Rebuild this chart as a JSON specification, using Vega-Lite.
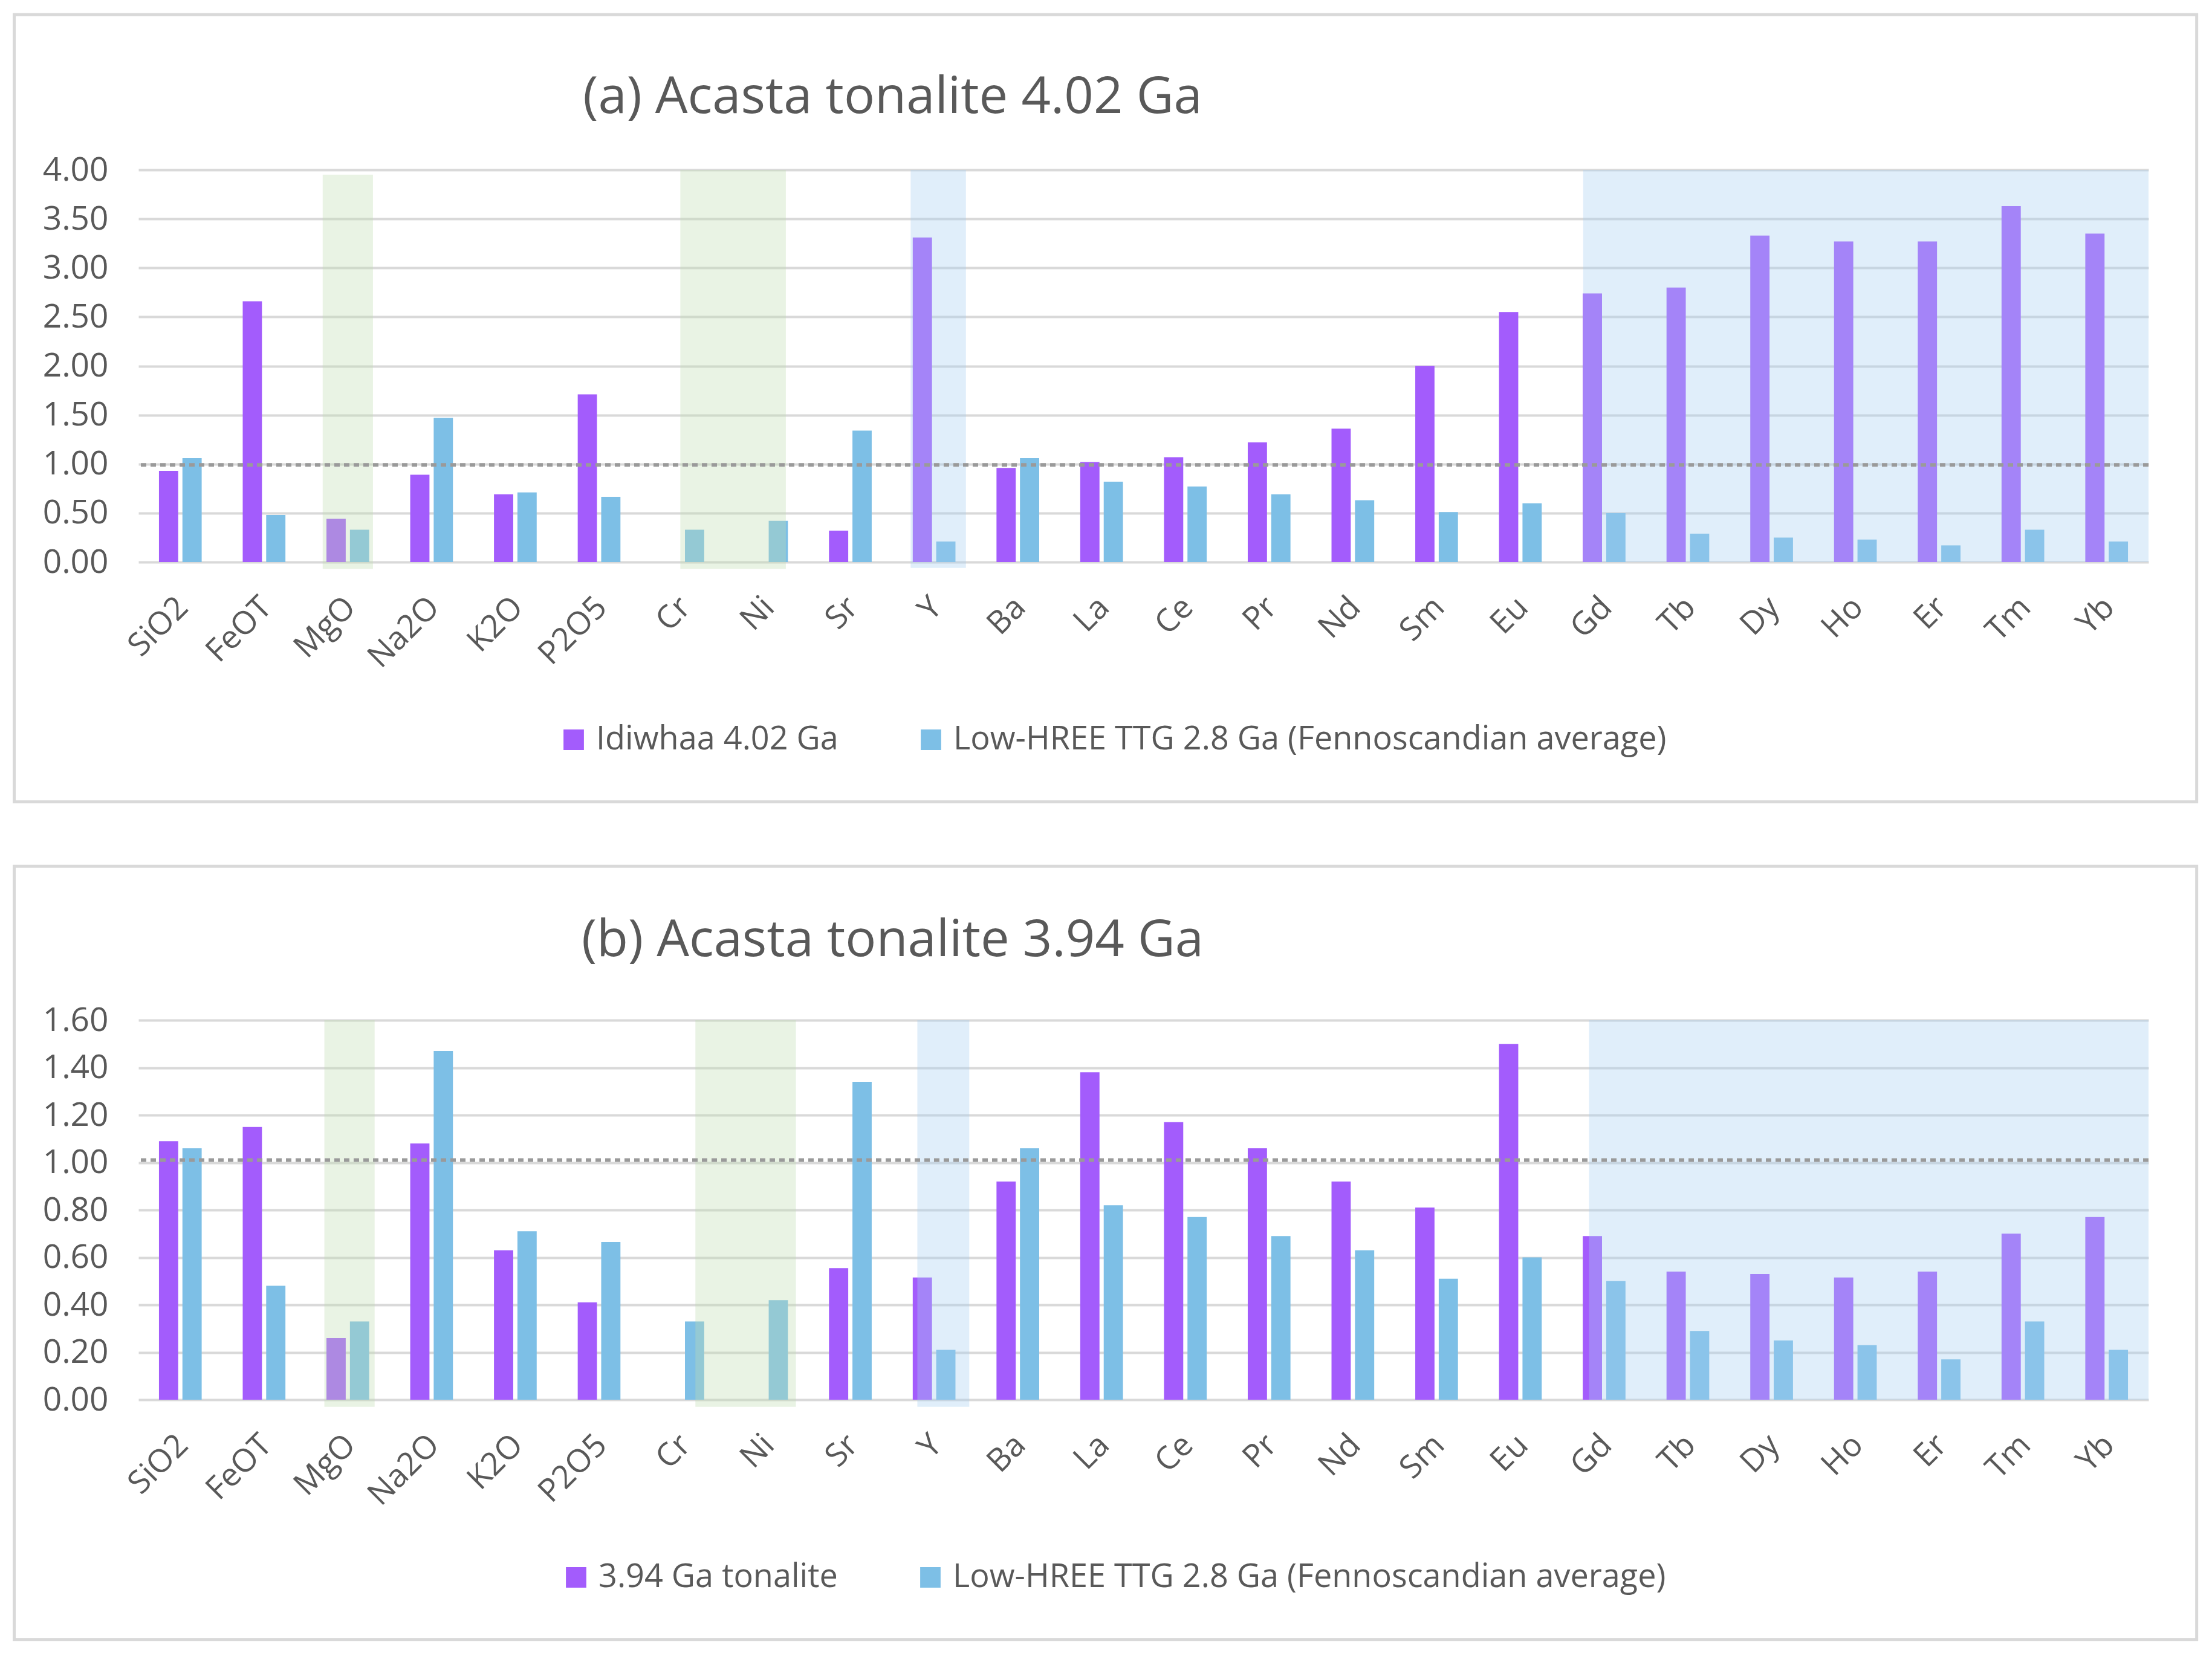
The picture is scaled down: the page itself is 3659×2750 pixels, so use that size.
{
  "$schema": "https://vega.github.io/schema/vega-lite/v6.json",
  "background": "white",
  "padding": {"left": 21, "top": 21, "right": 10, "bottom": 10},
  "datasets": {
    "a": [
      {"el": "SiO2", "p": 0.93, "t": 1.06},
      {"el": "FeOT", "p": 2.66, "t": 0.48},
      {"el": "MgO", "p": 0.44, "t": 0.33},
      {"el": "Na2O", "p": 0.89, "t": 1.47},
      {"el": "K2O", "p": 0.69, "t": 0.71},
      {"el": "P2O5", "p": 1.71, "t": 0.665},
      {"el": "Cr", "t": 0.33},
      {"el": "Ni", "t": 0.42},
      {"el": "Sr", "p": 0.32, "t": 1.34},
      {"el": "Y", "p": 3.31, "t": 0.21},
      {"el": "Ba", "p": 0.96, "t": 1.06},
      {"el": "La", "p": 1.02, "t": 0.82},
      {"el": "Ce", "p": 1.07, "t": 0.77},
      {"el": "Pr", "p": 1.22, "t": 0.69},
      {"el": "Nd", "p": 1.36, "t": 0.63},
      {"el": "Sm", "p": 2.0, "t": 0.51},
      {"el": "Eu", "p": 2.55, "t": 0.6},
      {"el": "Gd", "p": 2.74, "t": 0.5},
      {"el": "Tb", "p": 2.8, "t": 0.29},
      {"el": "Dy", "p": 3.33, "t": 0.25},
      {"el": "Ho", "p": 3.27, "t": 0.23},
      {"el": "Er", "p": 3.27, "t": 0.17},
      {"el": "Tm", "p": 3.63, "t": 0.33},
      {"el": "Yb", "p": 3.35, "t": 0.21}
    ],
    "b": [
      {"el": "SiO2", "p": 1.09, "t": 1.06},
      {"el": "FeOT", "p": 1.15, "t": 0.48},
      {"el": "MgO", "p": 0.26, "t": 0.33},
      {"el": "Na2O", "p": 1.08, "t": 1.47},
      {"el": "K2O", "p": 0.63, "t": 0.71},
      {"el": "P2O5", "p": 0.41, "t": 0.665},
      {"el": "Cr", "t": 0.33},
      {"el": "Ni", "t": 0.42},
      {"el": "Sr", "p": 0.555, "t": 1.34},
      {"el": "Y", "p": 0.515, "t": 0.21},
      {"el": "Ba", "p": 0.92, "t": 1.06},
      {"el": "La", "p": 1.38, "t": 0.82},
      {"el": "Ce", "p": 1.17, "t": 0.77},
      {"el": "Pr", "p": 1.06, "t": 0.69},
      {"el": "Nd", "p": 0.92, "t": 0.63},
      {"el": "Sm", "p": 0.81, "t": 0.51},
      {"el": "Eu", "p": 1.5, "t": 0.6},
      {"el": "Gd", "p": 0.69, "t": 0.5},
      {"el": "Tb", "p": 0.54, "t": 0.29},
      {"el": "Dy", "p": 0.53, "t": 0.25},
      {"el": "Ho", "p": 0.515, "t": 0.23},
      {"el": "Er", "p": 0.54, "t": 0.17},
      {"el": "Tm", "p": 0.7, "t": 0.33},
      {"el": "Yb", "p": 0.77, "t": 0.21}
    ]
  },
  "config": {
    "font": "Open Sans",
    "view": {"stroke": null},
    "axis": {
      "labelFont": "Open Sans",
      "labelColor": "#595959",
      "labelFontSize": 55,
      "domain": false,
      "ticks": false,
      "gridColor": "#d9d9d9",
      "gridWidth": 4,
      "title": null
    },
    "legend": {
      "orient": "none",
      "direction": "horizontal",
      "symbolType": "square",
      "symbolSize": 1140,
      "symbolStrokeWidth": 0,
      "labelFont": "Open Sans",
      "labelFontSize": 54,
      "labelColor": "#595959",
      "labelOffset": 10,
      "labelLimit": 2000,
      "columnPadding": 126,
      "title": null
    },
    "title": {"font": "Open Sans", "fontSize": 85, "fontWeight": "normal", "color": "#595959"}
  },
  "spacing": 100,
  "vconcat": [
    {
      "width": 3325,
      "height": 649,
      "title": {"text": "(a) Acasta tonalite 4.02 Ga", "anchor": "middle", "frame": "group", "dx": -415, "offset": -224, "baseline": "middle"},
      "data": {"name": "a"},
      "layer": [
        {
          "transform": [{"fold": ["p", "t"], "as": ["s", "v"]}, {"filter": "isValid(datum.v)"}],
          "mark": {"type": "bar"},
          "encoding": {
            "x": {"field": "el", "type": "nominal", "sort": null, "scale": {"paddingInner": 0.49, "paddingOuter": 0.245}, "axis": {"labelAngle": -45, "labelPadding": 48, "labelOffset": -14, "labelFontSize": 53, "grid": false}},
            "xOffset": {"field": "s", "type": "nominal", "scale": {"domain": ["p", "t"], "paddingInner": 0.18, "paddingOuter": 0}},
            "y": {"field": "v", "type": "quantitative", "scale": {"domain": [0, 4], "nice": false}, "axis": {"values": [0, 0.5, 1, 1.5, 2, 2.5, 3, 3.5, 4], "format": ".2f", "labelPadding": 50, "grid": true}},
            "color": {"field": "s", "type": "nominal", "scale": {"domain": ["p", "t"], "range": ["#a35cfc", "#7dbfe6"]}, "legend": {"legendX": 693, "legendY": 916, "labelExpr": "datum.value === 'p' ? 'Idiwhaa 4.02 Ga' : 'Low-HREE TTG 2.8 Ga (Fennoscandian average)'"}}
          }
        },
        {
          "data": {"values": [{"x0": 2.2, "x1": 2.8, "y0": -0.07, "y1": 3.95}, {"x0": 6.47, "x1": 7.73, "y0": -0.07, "y1": 4}]},
          "mark": {"type": "rect", "color": "#c0ddb2", "opacity": 0.35},
          "encoding": {
            "x": {"field": "x0", "type": "quantitative", "scale": {"domain": [0, 24], "nice": false, "zero": false}, "axis": null},
            "x2": {"field": "x1"},
            "y": {"field": "y0", "type": "quantitative", "scale": {"domain": [0, 4], "nice": false}},
            "y2": {"field": "y1"}
          }
        },
        {
          "data": {"values": [{"x0": 9.22, "x1": 9.88, "y0": -0.06, "y1": 4}, {"x0": 17.25, "x1": 24, "y0": 0, "y1": 4}]},
          "mark": {"type": "rect", "color": "#a6cef0", "opacity": 0.35},
          "encoding": {
            "x": {"field": "x0", "type": "quantitative", "scale": {"domain": [0, 24], "nice": false, "zero": false}, "axis": null},
            "x2": {"field": "x1"},
            "y": {"field": "y0", "type": "quantitative", "scale": {"domain": [0, 4], "nice": false}},
            "y2": {"field": "y1"}
          }
        },
        {
          "data": {"values": [{}]},
          "mark": {"type": "rule", "color": "#9a9a9a", "strokeWidth": 6, "strokeDash": [9, 7]},
          "encoding": {"y": {"datum": 0.99, "type": "quantitative", "scale": {"domain": [0, 4], "nice": false}}}
        },
        {
          "data": {"values": [{}]},
          "mark": {"type": "rect", "fill": "white", "fillOpacity": 0, "stroke": "#d9d9d9", "strokeWidth": 5},
          "encoding": {
            "x": {"datum": -1.483, "type": "quantitative", "scale": {"domain": [0, 24], "nice": false, "zero": false}, "axis": null},
            "x2": {"datum": 24.575},
            "y": {"datum": 5.583, "type": "quantitative", "scale": {"domain": [0, 4], "nice": false}},
            "y2": {"datum": -2.446}
          }
        }
      ],
      "resolve": {"scale": {"x": "independent"}}
    },
    {
      "width": 3325,
      "height": 628,
      "title": {"text": "(b) Acasta tonalite 3.94 Ga", "anchor": "middle", "frame": "group", "dx": -415, "offset": -210, "baseline": "middle"},
      "data": {"name": "b"},
      "layer": [
        {
          "transform": [{"fold": ["p", "t"], "as": ["s", "v"]}, {"filter": "isValid(datum.v)"}],
          "mark": {"type": "bar"},
          "encoding": {
            "x": {"field": "el", "type": "nominal", "sort": null, "scale": {"paddingInner": 0.49, "paddingOuter": 0.245}, "axis": {"labelAngle": -45, "labelPadding": 48, "labelOffset": -14, "labelFontSize": 53, "grid": false}},
            "xOffset": {"field": "s", "type": "nominal", "scale": {"domain": ["p", "t"], "paddingInner": 0.18, "paddingOuter": 0}},
            "y": {"field": "v", "type": "quantitative", "scale": {"domain": [0, 1.6], "nice": false}, "axis": {"values": [0, 0.2, 0.4, 0.6, 0.8, 1, 1.2, 1.4, 1.6], "format": ".2f", "labelPadding": 50, "grid": true}},
            "color": {"field": "s", "type": "nominal", "scale": {"domain": ["p", "t"], "range": ["#a35cfc", "#7dbfe6"]}, "legend": {"legendX": 697, "legendY": 895, "labelExpr": "datum.value === 'p' ? '3.94 Ga tonalite' : 'Low-HREE TTG 2.8 Ga (Fennoscandian average)'"}}
          }
        },
        {
          "data": {"values": [{"x0": 2.22, "x1": 2.82, "y0": -0.03, "y1": 1.6}, {"x0": 6.65, "x1": 7.85, "y0": -0.03, "y1": 1.6}]},
          "mark": {"type": "rect", "color": "#c0ddb2", "opacity": 0.35},
          "encoding": {
            "x": {"field": "x0", "type": "quantitative", "scale": {"domain": [0, 24], "nice": false, "zero": false}, "axis": null},
            "x2": {"field": "x1"},
            "y": {"field": "y0", "type": "quantitative", "scale": {"domain": [0, 1.6], "nice": false}},
            "y2": {"field": "y1"}
          }
        },
        {
          "data": {"values": [{"x0": 9.3, "x1": 9.92, "y0": -0.03, "y1": 1.6}, {"x0": 17.32, "x1": 24, "y0": 0, "y1": 1.6}]},
          "mark": {"type": "rect", "color": "#a6cef0", "opacity": 0.35},
          "encoding": {
            "x": {"field": "x0", "type": "quantitative", "scale": {"domain": [0, 24], "nice": false, "zero": false}, "axis": null},
            "x2": {"field": "x1"},
            "y": {"field": "y0", "type": "quantitative", "scale": {"domain": [0, 1.6], "nice": false}},
            "y2": {"field": "y1"}
          }
        },
        {
          "data": {"values": [{}]},
          "mark": {"type": "rule", "color": "#9a9a9a", "strokeWidth": 6, "strokeDash": [9, 7]},
          "encoding": {"y": {"datum": 1.01, "type": "quantitative", "scale": {"domain": [0, 1.6], "nice": false}}}
        },
        {
          "data": {"values": [{}]},
          "mark": {"type": "rect", "fill": "white", "fillOpacity": 0, "stroke": "#d9d9d9", "strokeWidth": 5},
          "encoding": {
            "x": {"datum": -1.483, "type": "quantitative", "scale": {"domain": [0, 24], "nice": false, "zero": false}, "axis": null},
            "x2": {"datum": 24.575},
            "y": {"datum": 2.249, "type": "quantitative", "scale": {"domain": [0, 1.6], "nice": false}},
            "y2": {"datum": -1.011}
          }
        }
      ],
      "resolve": {"scale": {"x": "independent"}}
    }
  ],
  "resolve": {"scale": {"color": "independent", "x": "independent", "y": "independent"}, "legend": {"color": "independent"}}
}
